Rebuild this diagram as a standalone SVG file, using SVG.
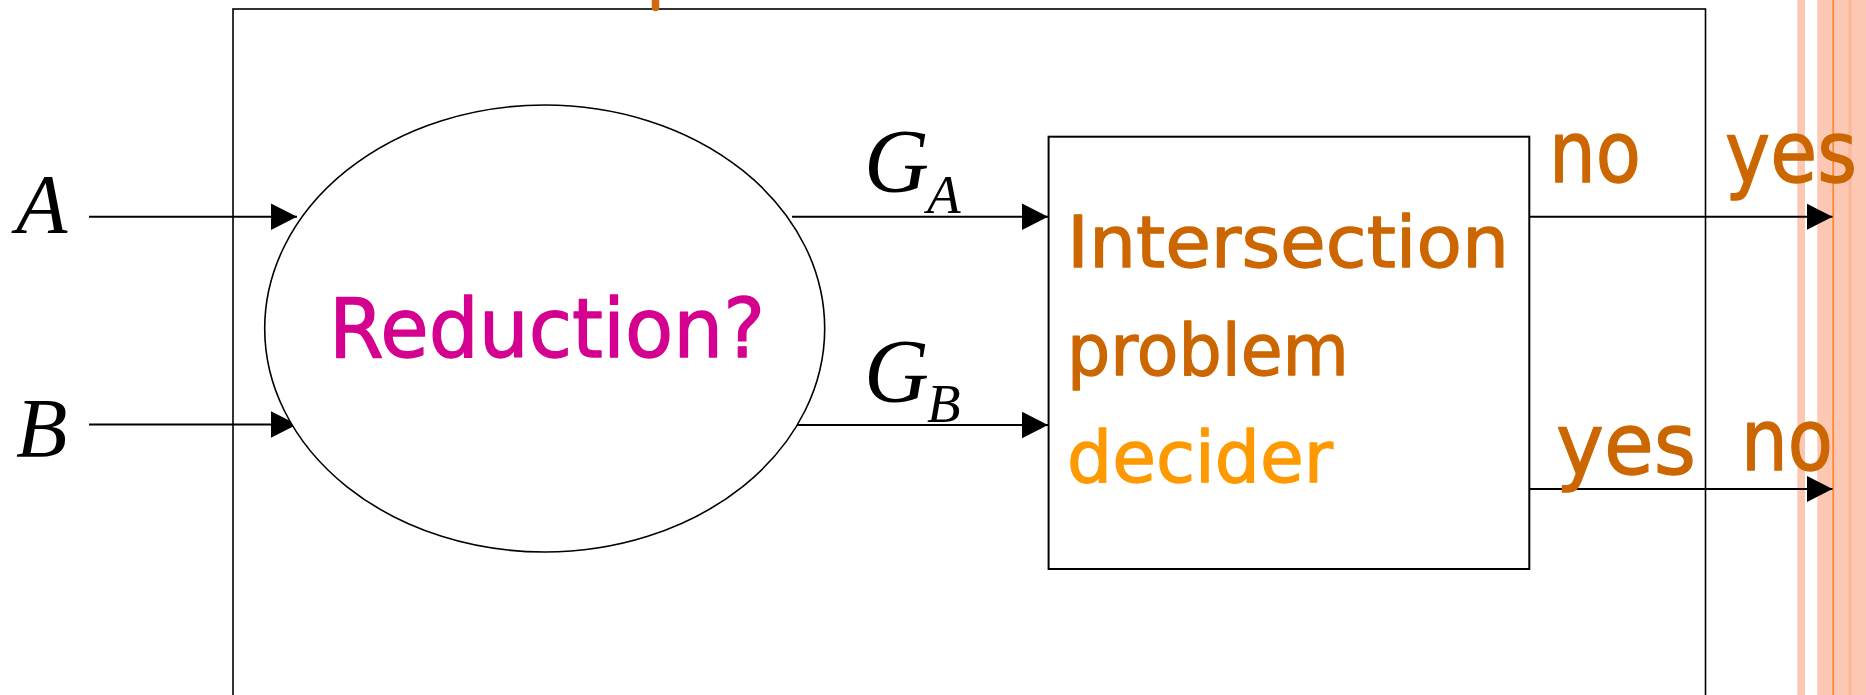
<svg xmlns="http://www.w3.org/2000/svg" width="1866" height="695" viewBox="0 0 1866 695">
<style>
.box{fill:#fff;stroke:#000}
.conn{stroke:#000;stroke-width:2;fill:none;marker-end:url(#ah)}
.math{font-family:"Liberation Serif","Times New Roman",serif;font-style:italic;fill:#000}
.hand{font-family:"DejaVu Sans",sans-serif;stroke-width:1.3;stroke-linejoin:round}
.brown{fill:#CC6600;stroke:#CC6600}
.amber{fill:#FF9900;stroke:#FF9900}
.mag{fill:#D4008F;stroke:#D4008F}
.stripe{fill:#FDC8B3}
</style>
<defs>
<marker id="ah" markerUnits="userSpaceOnUse" markerWidth="27" markerHeight="28" refX="26" refY="13.3" orient="auto">
<path d="M0,0 L26,13.3 L0,26.6 z" fill="#000"/>
</marker>
</defs>
<rect width="1866" height="695" fill="#fff"/>
<g id="stripes">
<rect class="stripe" x="1797.3" y="0" width="7.7" height="695"/>
<rect class="stripe" x="1817.3" y="0" width="48.7" height="695"/>
<rect x="1848.3" y="0" width="3.4" height="695" fill="#FBB99C"/>
<rect x="1832.3" y="0" width="1.8" height="695" fill="#FF8833"/>
</g>
<g id="outer">
<rect class="box" x="233" y="9" width="1472.5" height="720" stroke-width="1.6"/>
<line x1="655.5" y1="-6" x2="655.5" y2="7.5" stroke="#D06A0E" stroke-width="7.5" stroke-linecap="round"/>
</g>
<g id="connectors">
<line class="conn" x1="89" y1="216.7" x2="297" y2="216.7"/>
<line class="conn" x1="89" y1="424.5" x2="297" y2="424.5"/>
<line class="conn" x1="792" y1="216.7" x2="1048" y2="216.7"/>
<line class="conn" x1="792" y1="425" x2="1048" y2="425"/>
<line class="conn" x1="1529" y1="216.7" x2="1832.5" y2="216.7"/>
<line class="conn" x1="1529" y1="489" x2="1832.5" y2="489"/>
</g>
<g id="reduction">
<ellipse class="box" cx="544.7" cy="328.5" rx="280" ry="223.5" stroke-width="1.6" fill="none"/>
<text class="hand mag" x="329" y="357" font-size="82" textLength="436" lengthAdjust="spacingAndGlyphs">Reduction?</text>
</g>
<g id="decider">
<rect class="box" x="1048.6" y="136.7" width="480.7" height="432.3" stroke-width="2"/>
<text class="hand brown" x="1067" y="267" font-size="72" textLength="442" lengthAdjust="spacingAndGlyphs">Intersection</text>
<text class="hand brown" x="1067" y="375" font-size="72" textLength="282" lengthAdjust="spacingAndGlyphs">problem</text>
<text class="hand amber" x="1067" y="482" font-size="72" textLength="266" lengthAdjust="spacingAndGlyphs">decider</text>
</g>
<g id="label-A"><text class="math" x="16" y="233" font-size="84">A</text></g>
<g id="label-B"><text class="math" x="16" y="456.5" font-size="84">B</text></g>
<g id="label-GA"><text class="math" x="864" y="192" font-size="90">G</text><text class="math" x="927" y="213.3" font-size="55">A</text></g>
<g id="label-GB"><text class="math" x="864" y="402" font-size="90">G</text><text class="math" x="927" y="421.7" font-size="55">B</text></g>
<g id="out-labels">
<text class="hand brown" x="1549" y="182" font-size="86" textLength="92" lengthAdjust="spacingAndGlyphs">no</text>
<text class="hand brown" x="1725" y="182" font-size="86" textLength="132" lengthAdjust="spacingAndGlyphs">yes</text>
<text class="hand brown" x="1556" y="474" font-size="86" textLength="140" lengthAdjust="spacingAndGlyphs">yes</text>
<text class="hand brown" x="1741" y="470" font-size="86" textLength="92" lengthAdjust="spacingAndGlyphs">no</text>
</g>
</svg>
